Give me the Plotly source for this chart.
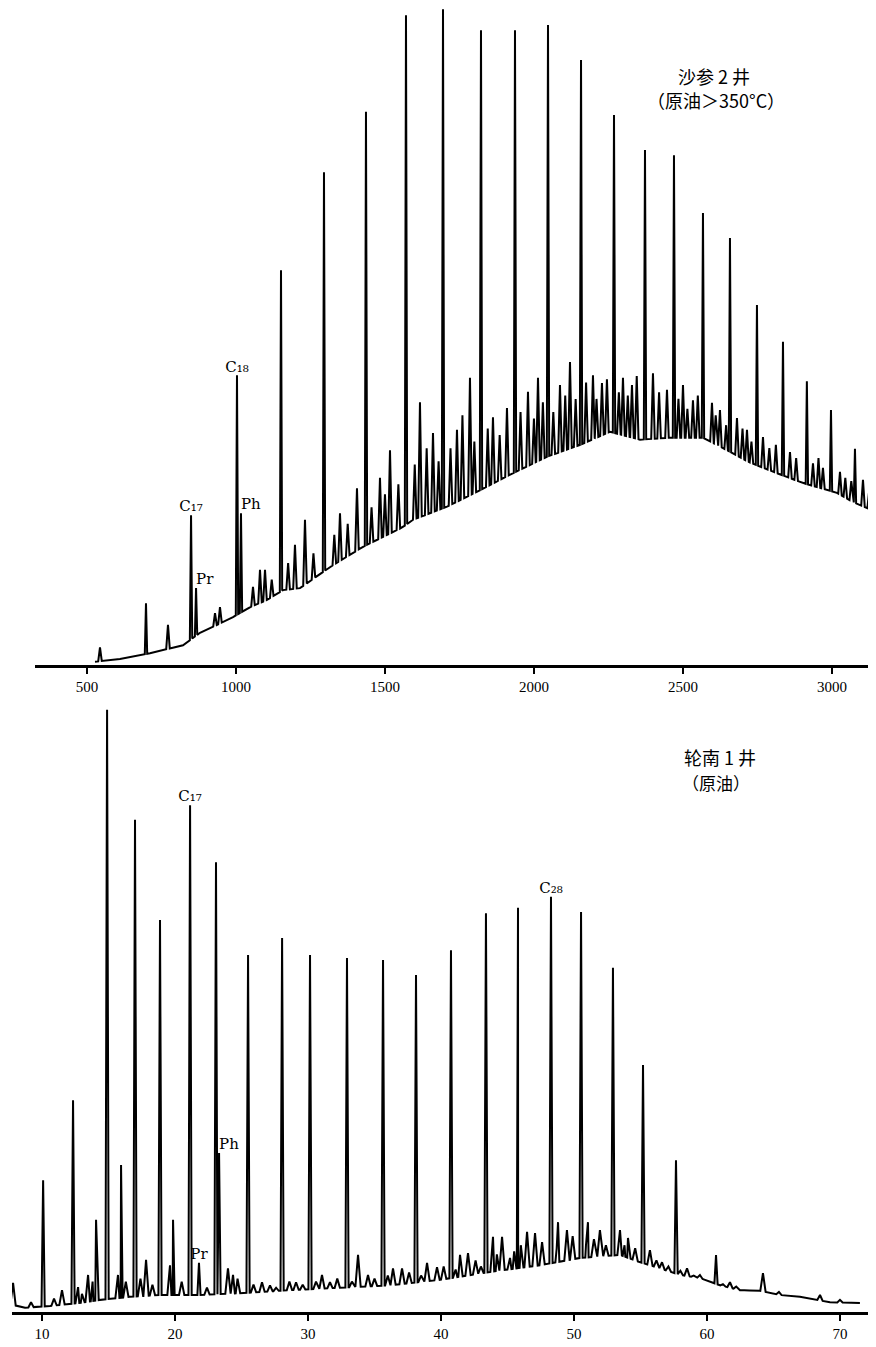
import numpy as np
import plotly.graph_objects as go

# ---------------- Upper chromatogram: 沙参2井 (原油 > 350°C) ----------------
top_base_x = [526.8, 610.7, 711.4, 822.2, 879.2, 936.3, 990.0, 1047.0, 1104.1, 1157.8,
              1214.8, 1315.5, 1426.3, 1560.5, 1594.1, 1708.2, 1818.9, 1929.7, 2043.8,
              2154.5, 2255.2, 2355.9, 2456.5, 2567.3, 2647.8, 2725.0, 2815.6, 2902.9,
              3017.0, 3070.7, 3147.9]
top_base_y = [0.5, 0.9, 1.8, 3.0, 4.9, 6.1, 7.3, 8.8, 9.9, 11.4,
              11.7, 14.9, 18.0, 21.0, 22.1, 24.1, 26.6, 29.2, 31.7,
              33.5, 35.5, 34.3, 34.6, 34.6, 32.7, 30.8, 29.2, 27.7,
              26.2, 24.8, 23.3]
# main peaks (n-alkanes, Pr, Ph): retention index, apex height
top_peak_x = [698.0, 849.2, 866.0, 1003.4, 1016.8, 1151.1, 1295.4, 1436.3, 1570.6, 1694.8,
              1822.3, 1936.4, 2047.2, 2158.0, 2268.7, 2372.7, 2470.0, 2567.3, 2657.9,
              2748.5, 2835.8, 2916.0, 2996.9, 3077.4]
top_peak_y = [9.4, 22.8, 11.7, 44.1, 23.1, 60.1, 75.0, 84.2, 98.9, 99.8,
              96.6, 96.6, 97.4, 92.1, 83.7, 78.4, 77.6, 68.8, 65.0,
              54.8, 49.2, 43.2, 38.8, 32.9]
# unresolved / minor peaks on the hump
top_minor_x = [543.6, 771.8, 929.6, 946.3, 1057.1, 1080.6, 1097.4, 1120.0, 1175.0, 1198.0,
               1231.6, 1260.0, 1330.0, 1349.1, 1375.0, 1406.1, 1455.0, 1483.3, 1500.0,
               1516.9, 1545.0, 1600.0, 1617.5, 1640.0, 1661.2, 1680.0, 1720.0, 1741.7,
               1760.0, 1785.3, 1800.0, 1845.0, 1862.5, 1885.0, 1909.5, 1955.0, 1980.0,
               2000.0, 2013.6, 2030.0, 2065.0, 2087.4, 2105.0, 2121.0, 2140.0, 2175.0,
               2198.1, 2210.0, 2228.3, 2245.0, 2285.0, 2298.8, 2315.0, 2329.0, 2345.0,
               2399.5, 2420.0, 2446.5, 2485.0, 2500.2, 2515.0, 2533.7, 2550.0, 2597.5,
               2610.0, 2624.3, 2645.0, 2681.4, 2700.0, 2715.0, 2730.0, 2768.7, 2790.0,
               2812.0, 2859.3, 2880.0, 2936.5, 2955.0, 2970.0, 3027.1, 3045.0, 3065.0,
               3104.3, 3125.0]
top_minor_y = [2.7, 6.1, 7.9, 8.8, 11.9, 14.5, 14.5, 13.0, 15.5, 18.3,
               22.1, 17.0, 19.8, 23.1, 21.5, 26.9, 24.0, 28.5, 26.0,
               32.7, 27.5, 30.5, 40.0, 33.0, 35.3, 31.0, 33.0, 35.8,
               38.0, 43.7, 34.0, 36.0, 37.7, 35.0, 39.1, 38.5, 41.6,
               37.5, 43.7, 40.0, 38.5, 42.6, 41.0, 46.1, 40.5, 43.0,
               44.1, 40.5, 42.9, 43.5, 41.5, 43.7, 41.0, 42.6, 44.0,
               44.4, 41.5, 41.9, 40.5, 42.6, 39.0, 40.3, 41.0, 39.9,
               38.0, 38.8, 36.5, 37.6, 36.0, 35.8, 34.0, 34.7, 33.0,
               33.5, 32.4, 31.5, 30.7, 31.5, 30.0, 29.4, 28.5, 28.0,
               28.2, 26.5]
top_ticks = [500, 1000, 1500, 2000, 2500, 3000]
top_tick_text = ["500", "1000", "1500", "2000", "2500", "3000"]
# labelled peaks: index into top_peak_x / top_peak_y
top_label_idx = [1, 2, 3, 4]
top_label_text = ["C₁₇", "Pr", "C₁₈", "Ph"]

# ---------------- Lower chromatogram: 轮南1井 (原油) ----------------
bot_base_x = [7.74, 8.72, 10.6, 12.86, 14.36, 16.6, 18.87, 21.88, 24.89, 28.65, 32.4,
              36.17, 39.92, 43.68, 47.44, 50.45, 53.46, 54.96, 56.47, 57.97, 59.47,
              60.98, 62.48, 63.98, 65.49, 66.99, 69.25, 71.5]
bot_base_y = [1.2, 0.7, 1.0, 1.5, 2.0, 2.5, 2.8, 2.8, 3.1, 3.6, 4.0,
              4.4, 5.3, 6.6, 7.7, 8.9, 9.4, 8.2, 7.2, 6.1, 5.6,
              4.4, 3.6, 3.5, 2.8, 2.5, 1.6, 1.5]
bot_peak_x = [10.08, 12.33, 14.89, 15.94, 16.99, 18.87, 19.85, 21.13, 21.80, 23.08, 23.31,
              25.49, 28.05, 30.15, 32.93, 35.64, 38.12, 40.75, 43.38, 45.79, 48.27,
              50.53, 52.93, 55.19, 57.67, 60.68]
bot_peak_y = [21.7, 34.9, 99.2, 24.2, 81.1, 64.6, 15.2, 83.5, 8.1, 74.1, 26.2,
              58.8, 61.6, 58.8, 58.3, 58.0, 55.5, 59.6, 65.7, 66.6, 68.4,
              65.9, 56.7, 40.7, 25.0, 9.4]
bot_minor_x = [7.82, 9.17, 10.9, 11.50, 12.71, 13.0, 13.46, 13.8, 14.06, 15.71, 16.3,
               17.4, 17.82, 18.3, 19.62, 20.5, 22.4, 23.98, 24.36, 24.7, 25.9, 26.54,
               27.14, 27.6, 28.6, 29.10, 29.6, 30.6, 31.05, 31.65, 32.2, 33.3, 33.76,
               34.51, 35.0, 36.0, 36.39, 37.07, 37.6, 38.5, 38.95, 39.70, 40.2, 41.1,
               41.43, 42.03, 42.6, 43.0, 43.91, 44.2, 44.59, 45.19, 45.5, 46.0, 46.47,
               47.07, 47.6, 48.7, 48.80, 49.47, 49.9, 50.9, 51.05, 51.5, 51.95, 52.4,
               53.46, 53.8, 54.06, 54.6, 55.71, 56.2, 56.62, 57.1, 58.0, 58.50, 59.0,
               59.47, 60.0, 61.2, 61.73, 62.2, 63.0, 64.21, 65.41, 68.50, 70.0]
bot_minor_y = [4.8, 1.6, 2.2, 3.6, 4.1, 3.0, 6.1, 5.0, 15.2, 6.1, 5.0,
               5.5, 8.6, 4.5, 7.7, 5.0, 4.0, 7.2, 6.1, 5.5, 4.5, 4.9,
               4.4, 4.0, 5.0, 4.9, 4.5, 5.0, 6.1, 4.9, 5.5, 5.0, 9.4,
               6.1, 5.5, 6.0, 7.2, 7.2, 6.5, 6.0, 8.1, 7.4, 7.5, 7.0,
               9.4, 9.7, 8.5, 7.5, 12.4, 9.5, 12.4, 8.9, 10.0, 11.0, 13.2,
               13.0, 11.5, 10.5, 14.8, 13.5, 12.5, 11.0, 14.8, 12.0, 13.5, 11.0,
               13.5, 11.0, 12.2, 10.5, 10.2, 8.5, 8.2, 7.5, 6.8, 7.2, 6.0,
               6.1, 5.2, 4.6, 4.9, 4.2, 3.6, 6.4, 3.3, 2.8, 2.0]
bot_ticks = [10, 20, 30, 40, 50, 60, 70]
bot_tick_text = ["10", "20", "30", "40", "50", "60", "70"]
bot_label_idx = [7, 8, 10, 20]
bot_label_text = ["C₁₇", "Pr", "Ph", "C₂₈"]


def chromatogram(bx, by, px, py, pw, mx, my, mw):
    bx = np.asarray(bx, float)
    by = np.asarray(by, float)
    peaks = [(x, y, pw) for x, y in zip(px, py)] + [(x, y, mw) for x, y in zip(mx, my)]
    pts = []
    for x, y, w in peaks:
        pts.append((x - w, float(np.interp(x - w, bx, by))))
        pts.append((x, y))
        pts.append((x + w, float(np.interp(x + w, bx, by))))
    for x, y in zip(bx, by):
        if not any(abs(x - p[0]) < p[2] for p in peaks):
            pts.append((x, y))
    pts.sort(key=lambda t: t[0])
    return [p[0] for p in pts], [p[1] for p in pts]


tx, ty = chromatogram(top_base_x, top_base_y, top_peak_x, top_peak_y, 4.0,
                      top_minor_x, top_minor_y, 6.0)
bx_, by_ = chromatogram(bot_base_x, bot_base_y, bot_peak_x, bot_peak_y, 0.12,
                        bot_minor_x, bot_minor_y, 0.2)

fig = go.Figure()
fig.add_trace(go.Scatter(x=tx, y=ty, mode="lines", xaxis="x", yaxis="y",
                         line=dict(color="black", width=2), hoverinfo="skip"))
fig.add_trace(go.Scatter(x=bx_, y=by_, mode="lines", xaxis="x2", yaxis="y2",
                         line=dict(color="black", width=2), hoverinfo="skip"))

# peak labels drawn as text marks on the peak apices
label_font = dict(family="DejaVu Serif, Liberation Serif, serif", size=15, color="black")
top_pos = ["top center", "top right", "top center", "top right"]
bot_pos = ["top center", "top center", "top right", "top center"]
fig.add_trace(go.Scatter(
    x=[top_peak_x[i] for i in top_label_idx],
    y=[top_peak_y[i] for i in top_label_idx],
    text=top_label_text, mode="text", textposition=top_pos, textfont=label_font,
    xaxis="x", yaxis="y", hoverinfo="skip", cliponaxis=False))
fig.add_trace(go.Scatter(
    x=[bot_peak_x[i] for i in bot_label_idx],
    y=[bot_peak_y[i] for i in bot_label_idx],
    text=bot_label_text, mode="text", textposition=bot_pos, textfont=label_font,
    xaxis="x2", yaxis="y2", hoverinfo="skip", cliponaxis=False))

# the page has an 8px body margin: figure is 868 x 1339 drawn at (8, 8)
W, H = 868, 1339
PB = 35                     # bottom margin
PH = H - PB                 # plot-area height (1304)


def px_x(xr):               # reference-image x pixel -> paper fraction
    return (xr - 8) / W


def px_y(yr):               # reference-image y pixel -> paper fraction
    return 1 - (yr - 8) / PH


tick_font = dict(family="Liberation Serif, DejaVu Serif, serif", size=15, color="black")
axis_common = dict(showline=True, linecolor="black", linewidth=2.5, ticks="outside",
                   ticklen=6, tickwidth=1.5, tickcolor="black", showgrid=False,
                   zeroline=False, tickfont=tick_font, fixedrange=True)

fig.update_layout(
    width=W, height=H,
    margin=dict(l=0, r=0, t=0, b=PB, pad=0),
    paper_bgcolor="white", plot_bgcolor="white",
    showlegend=False,
    xaxis=dict(domain=[px_x(35), 1.0], range=[325.5, 3148], anchor="y",
               tickvals=top_ticks, ticktext=top_tick_text, **axis_common),
    yaxis=dict(domain=[px_y(665), 1.0], range=[0, 100], visible=False, fixedrange=True),
    xaxis2=dict(domain=[px_x(12), 1.0], range=[7.74, 72.71], anchor="y2",
                tickvals=bot_ticks, ticktext=bot_tick_text, **axis_common),
    yaxis2=dict(domain=[0.0, px_y(705)], range=[0, 100], visible=False, fixedrange=True),
)


def cjk_label(text, xr, yr, size=17):
    fig.add_annotation(text=text, x=px_x(xr), y=px_y(yr), xref="paper", yref="paper",
                       xanchor="center", yanchor="middle", showarrow=False,
                       font=dict(family="Noto Sans CJK SC, sans-serif", size=size,
                                 color="black"))


cjk_label("沙参 2 井", 714, 76, size=18)
cjk_label("（原油＞350°C）", 716, 100, size=18)
cjk_label("轮南 1 井", 720, 757, size=18)
cjk_label("（原油）", 716, 783, size=17)

fig.write_html("out.html")
